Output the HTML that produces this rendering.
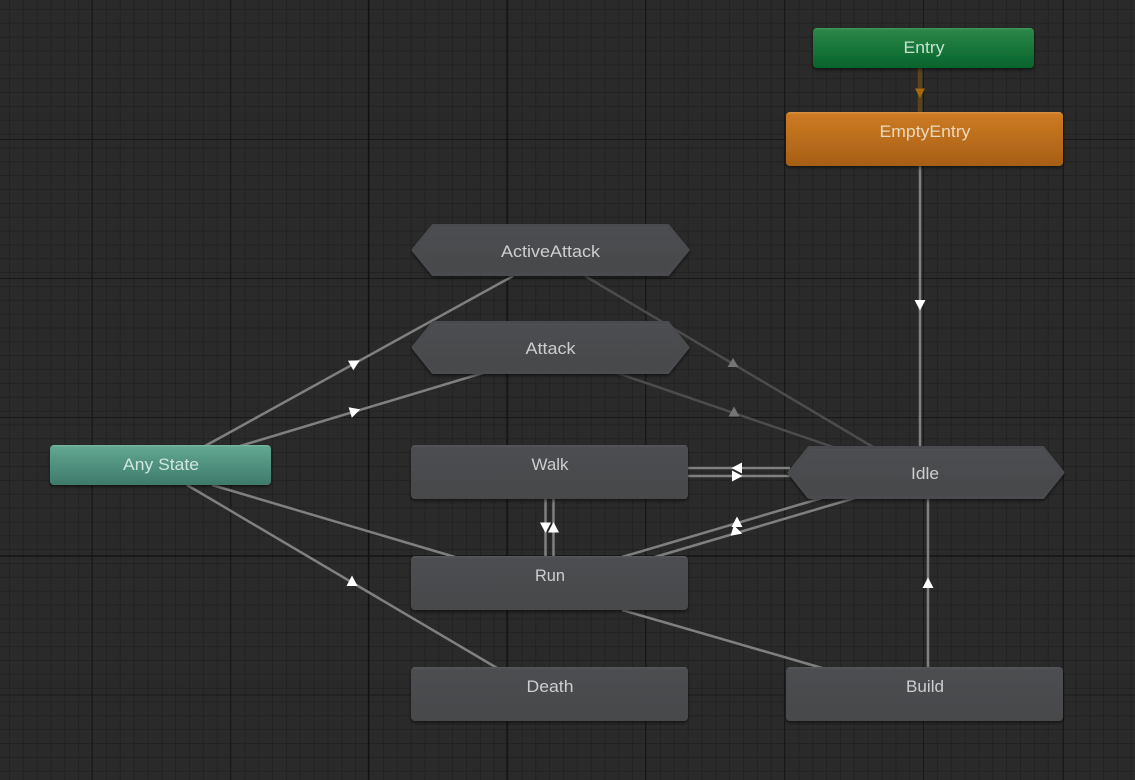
<!DOCTYPE html>
<html><head><meta charset="utf-8"><style>
html,body{margin:0;padding:0;background:#2a2a2a;width:1135px;height:780px;overflow:hidden}
svg{display:block}
text{font-family:"Liberation Sans",sans-serif;font-size:16.5px;text-anchor:middle;fill:#cdcecf}
</style></head><body>
<svg width="1135" height="780" viewBox="0 0 1135 780" xmlns="http://www.w3.org/2000/svg">
<defs>
<pattern id="minor" x="-4" y="-4" width="13.85" height="13.85" patternUnits="userSpaceOnUse"><path d="M13.85 0V13.85M0 13.85H13.85" stroke="#1f1f1f" stroke-width="1.4" fill="none"/></pattern>
<linearGradient id="gray" x1="0" y1="0" x2="0" y2="1"><stop offset="0" stop-color="#55575a"/><stop offset=".05" stop-color="#4c4e51"/><stop offset="1" stop-color="#46484a"/></linearGradient>
<linearGradient id="green" x1="0" y1="0" x2="0" y2="1"><stop offset="0" stop-color="#3f9a5c"/><stop offset=".06" stop-color="#2a8547"/><stop offset="1" stop-color="#05642c"/></linearGradient>
<linearGradient id="orange" x1="0" y1="0" x2="0" y2="1"><stop offset="0" stop-color="#dc9245"/><stop offset=".05" stop-color="#cc7a22"/><stop offset="1" stop-color="#a65f16"/></linearGradient>
<linearGradient id="teal" x1="0" y1="0" x2="0" y2="1"><stop offset="0" stop-color="#78b8a2"/><stop offset=".06" stop-color="#60a590"/><stop offset="1" stop-color="#3f7a6a"/></linearGradient>
<filter id="sh" x="-5%" y="-10%" width="110%" height="125%"><feDropShadow dx="0" dy="2" stdDeviation="1.5" flood-color="#000" flood-opacity=".5"/></filter>
</defs>
<rect width="1135" height="780" fill="#2a2a2a"/>
<rect width="1135" height="780" fill="url(#minor)"/>
<g stroke="#181818" stroke-width="1">
<path d="M92 0V780M230.500 0V780M645.500 0V780M784.500 0V780M923.500 0V780M1063.500 0V780M0 139.500H1135M0 278.500H1135M0 417.500H1135M0 695H1135"/>
</g>
<g stroke="#111" stroke-width="1.3"><path d="M368.500 0V780M507 0V780M0 556H1135"/></g>

<g stroke-width="2.5" fill="none">
<g stroke="#808080">
<path d="M205 446L513 276M240 446L483 373M212 485L455 557M187 485L497 668"/>
<path d="M688 468H790M688 476H790M622 557L822 498M655 557L855 498"/>
<path d="M545.500 499V557M553.500 499V557M928 667V498M622 610L822 668"/>
<path d="M920 166V447"/>
</g>
<path d="M585 276L873 447M617 373L833 447" stroke="#4c4c4c"/>
<path d="M920 68V112" stroke="#5f4218" stroke-width="4.500"/>
</g>
<g fill="#fff">
<polygon points="0,-5.500 5.500,5 -5.500,5" transform="translate(355,363) rotate(61)"/>
<polygon points="0,-5.500 5.500,5 -5.500,5" transform="translate(355,411) rotate(73)"/>
<polygon points="0,-5.500 5.500,5 -5.500,5" transform="translate(352,581)"/>
<polygon points="0,-5.500 5.500,5 -5.500,5" transform="translate(737,468) rotate(-90)"/>
<polygon points="0,-5.500 5.500,5 -5.500,5" transform="translate(737,476) rotate(90)"/>
<polygon points="0,-5.500 5.500,5 -5.500,5" transform="translate(737,522)"/>
<polygon points="0,-5.500 5.500,5 -5.500,5" transform="translate(737,532) rotate(107)"/>
<polygon points="0,-5.500 5.500,5 -5.500,5" transform="translate(545.500,527.500) rotate(180)"/>
<polygon points="0,-5.500 5.500,5 -5.500,5" transform="translate(553.500,527.500)"/>
<polygon points="0,-5.500 5.500,5 -5.500,5" transform="translate(928,583)"/>
<polygon points="0,-5.500 5.500,5 -5.500,5" transform="translate(920,305) rotate(180)"/>
</g>
<polygon points="0,-5 5.500,4 -5.500,4" fill="#757575" transform="translate(733,363)"/>
<polygon points="0,-5.500 5.500,4.500 -5.500,4.500" fill="#757575" transform="translate(734,412)"/>
<polygon points="-5,-4.500 5,-4.500 0,5" fill="#a5680f" transform="translate(920,93)"/>

<g filter="url(#sh)">
<rect x="813" y="28" width="221" height="40" rx="4" fill="url(#green)"/>
<rect x="786" y="112" width="277" height="54" rx="4" fill="url(#orange)"/>
<g stroke-width="3" stroke-linejoin="round">
<polygon points="433,225.500 668,225.500 688,250 668,274.500 433,274.500 413,250" fill="url(#gray)" stroke="#4a4c4f"/>
<polygon points="433,322.500 668,322.500 688,347.500 668,372.500 433,372.500 413,347.500" fill="url(#gray)" stroke="#4a4c4f"/>
<polygon points="809,447.500 1043,447.500 1063,472.500 1043,497.500 809,497.500 789,472.500" fill="url(#gray)" stroke="#4a4c4f"/>
</g>
<rect x="411" y="445" width="277" height="54" rx="4" fill="url(#gray)"/>
<rect x="411" y="556" width="277" height="54" rx="4" fill="url(#gray)"/>
<rect x="411" y="667" width="277" height="54" rx="4" fill="url(#gray)"/>
<rect x="786" y="667" width="277" height="54" rx="4" fill="url(#gray)"/>
<rect x="50" y="445" width="221" height="40" rx="4" fill="url(#teal)"/>
</g>
<text x="924" y="53" textLength="41" lengthAdjust="spacingAndGlyphs" style="fill:#c6e2cf">Entry</text>
<text x="925" y="137" textLength="91" lengthAdjust="spacingAndGlyphs" style="fill:#ecd8c0">EmptyEntry</text>
<text x="550.500" y="257" textLength="99" lengthAdjust="spacingAndGlyphs">ActiveAttack</text>
<text x="550.500" y="354" textLength="50" lengthAdjust="spacingAndGlyphs">Attack</text>
<text x="550" y="470" textLength="37" lengthAdjust="spacingAndGlyphs">Walk</text>
<text x="925" y="479" textLength="28" lengthAdjust="spacingAndGlyphs">Idle</text>
<text x="550" y="581" textLength="30" lengthAdjust="spacingAndGlyphs">Run</text>
<text x="550" y="692" textLength="47" lengthAdjust="spacingAndGlyphs">Death</text>
<text x="925" y="692" textLength="38" lengthAdjust="spacingAndGlyphs">Build</text>
<text x="161" y="470" textLength="76" lengthAdjust="spacingAndGlyphs" style="fill:#d0e6de">Any State</text>
</svg>
</body></html>
